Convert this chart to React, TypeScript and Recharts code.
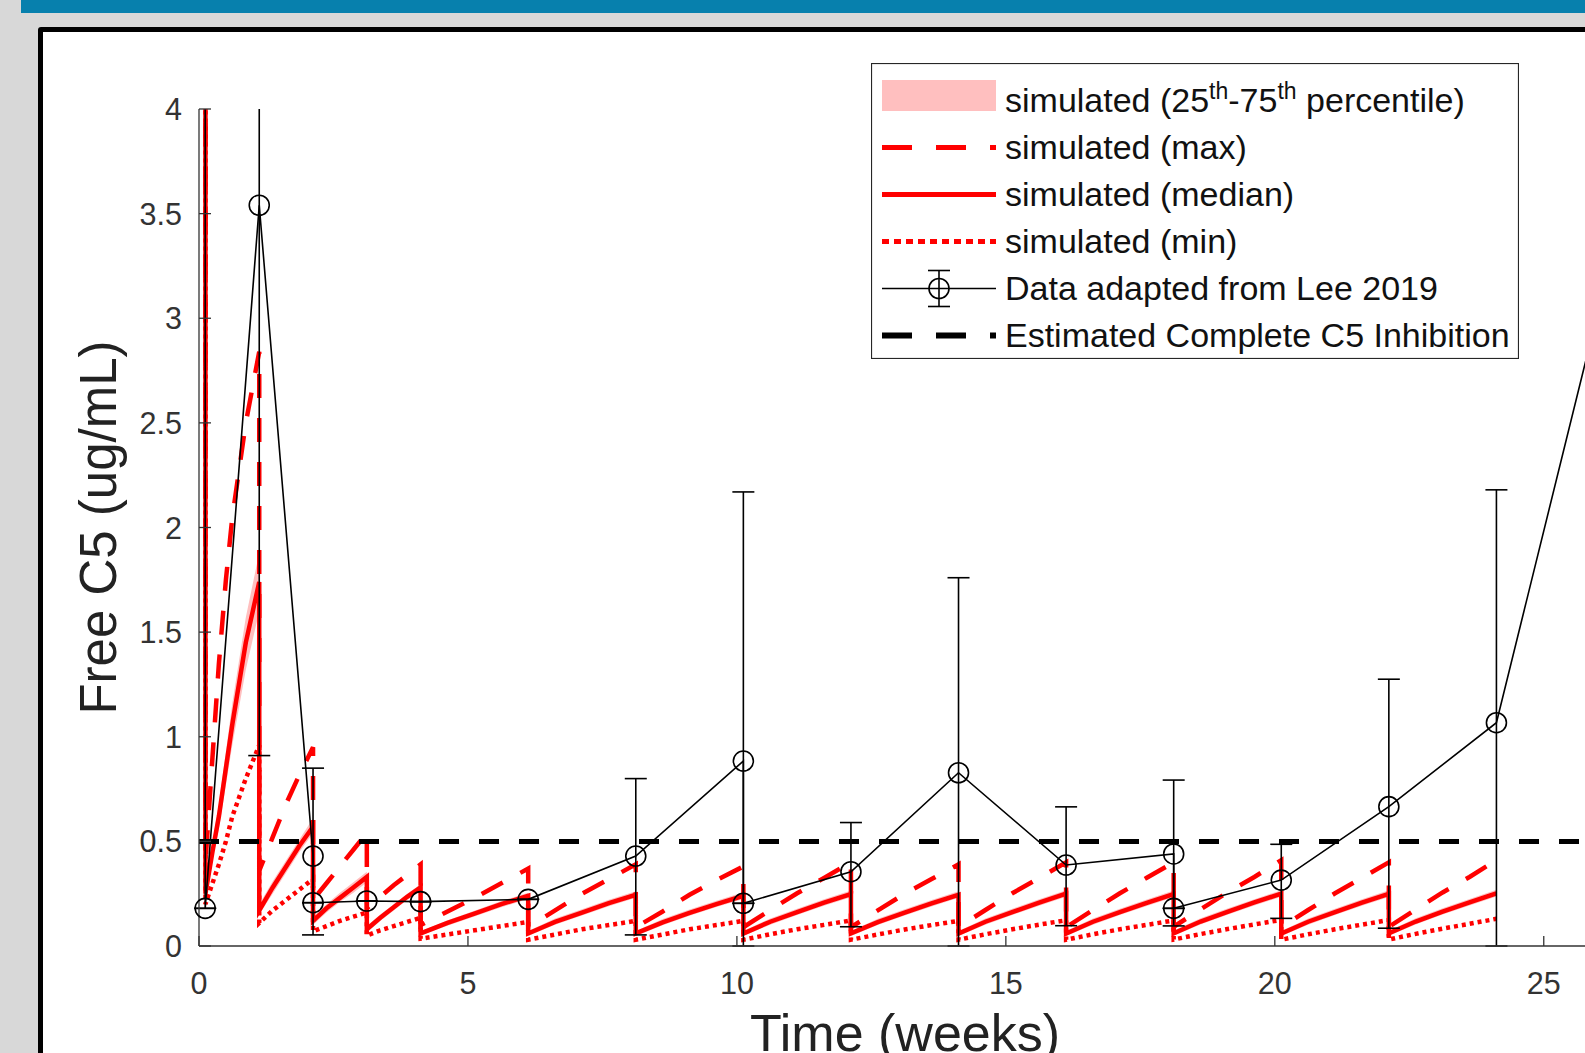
import {
  ComposedChart,
  Line,
  Area,
  XAxis,
  YAxis,
  ErrorBar,
  ReferenceLine,
  Legend,
} from "recharts";

const FONT = "'Liberation Sans', Arial, Helvetica, sans-serif";
const RED = "#ff0000";
const BAND = "#ffbfbf";
const AXIS = "#333333";
const PLOT_TOP = 109;

/* simulated free C5 (weeks, ug/mL); each dose time appears twice: pre- and post-dose */
const SIM_T = [
  0, 0.12,
  0.12, 0.25, 0.37, 0.5, 0.62, 0.87, 1.12,
  1.12, 1.37, 1.62, 1.87, 2.12,
  2.12, 2.37, 2.62, 2.87, 3.12,
  3.12, 3.37, 3.62, 3.87, 4.12,
  4.12, 4.62, 5.12, 5.62, 6.12,
  6.12, 6.62, 7.12, 7.62, 8.12,
  8.12, 8.62, 9.12, 9.62, 10.12,
  10.12, 10.62, 11.12, 11.62, 12.12,
  12.12, 12.62, 13.12, 13.62, 14.12,
  14.12, 14.62, 15.12, 15.62, 16.12,
  16.12, 16.62, 17.12, 17.62, 18.12,
  18.12, 18.62, 19.12, 19.62, 20.12,
  20.12, 20.62, 21.12, 21.62, 22.12,
  22.12, 22.62, 23.12, 23.62, 24.12,
];
const SIM_MIN = [
  100, 100,
  0.2, 0.3, 0.39, 0.5, 0.62, 0.8, 0.96,
  0.11, 0.17, 0.22, 0.27, 0.32,
  0.07, 0.095, 0.12, 0.14, 0.16,
  0.05, 0.075, 0.095, 0.115, 0.135,
  0.035, 0.055, 0.075, 0.095, 0.115,
  0.03, 0.055, 0.08, 0.1, 0.12,
  0.03, 0.055, 0.08, 0.1, 0.12,
  0.03, 0.056, 0.08, 0.101, 0.122,
  0.03, 0.055, 0.079, 0.1, 0.12,
  0.03, 0.056, 0.08, 0.102, 0.123,
  0.03, 0.056, 0.08, 0.101, 0.122,
  0.031, 0.057, 0.081, 0.103, 0.125,
  0.03, 0.056, 0.08, 0.102, 0.124,
  0.031, 0.058, 0.083, 0.106, 0.13,
];
const SIM_Q25 = [
  100, 100,
  0.23, 0.41, 0.56, 0.77, 0.96, 1.32, 1.6,
  0.15, 0.25, 0.35, 0.45, 0.54,
  0.1, 0.16, 0.21, 0.255, 0.305,
  0.065, 0.12, 0.17, 0.22, 0.265,
  0.05, 0.097, 0.141, 0.185, 0.225,
  0.048, 0.101, 0.146, 0.19, 0.23,
  0.048, 0.099, 0.144, 0.186, 0.225,
  0.048, 0.102, 0.148, 0.192, 0.233,
  0.048, 0.1, 0.146, 0.189, 0.23,
  0.048, 0.102, 0.148, 0.192, 0.235,
  0.048, 0.102, 0.148, 0.191, 0.233,
  0.049, 0.103, 0.149, 0.193, 0.235,
  0.048, 0.102, 0.148, 0.192, 0.234,
  0.049, 0.103, 0.15, 0.194, 0.237,
];
const SIM_MED = [
  100, 100,
  0.25, 0.45, 0.62, 0.85, 1.06, 1.45, 1.74,
  0.17, 0.28, 0.38, 0.48, 0.57,
  0.12, 0.18, 0.23, 0.28, 0.33,
  0.08, 0.135, 0.185, 0.235, 0.28,
  0.06, 0.11, 0.155, 0.2, 0.24,
  0.06, 0.115, 0.16, 0.205, 0.245,
  0.06, 0.113, 0.158, 0.2, 0.24,
  0.06, 0.116, 0.162, 0.207, 0.248,
  0.06, 0.114, 0.16, 0.204, 0.245,
  0.06, 0.116, 0.162, 0.207, 0.25,
  0.06, 0.116, 0.162, 0.206, 0.248,
  0.061, 0.117, 0.163, 0.208, 0.25,
  0.06, 0.116, 0.162, 0.207, 0.249,
  0.061, 0.117, 0.164, 0.209, 0.252,
];
const SIM_Q75 = [
  100, 100,
  0.27, 0.49, 0.68, 0.93, 1.16, 1.57, 1.88,
  0.2, 0.31, 0.41, 0.51, 0.61,
  0.14, 0.2, 0.255, 0.305, 0.355,
  0.095, 0.15, 0.2, 0.25, 0.295,
  0.07, 0.123, 0.169, 0.215, 0.255,
  0.072, 0.131, 0.176, 0.221, 0.262,
  0.072, 0.129, 0.174, 0.216, 0.257,
  0.072, 0.132, 0.178, 0.223, 0.265,
  0.072, 0.13, 0.176, 0.22, 0.262,
  0.072, 0.132, 0.178, 0.223, 0.267,
  0.072, 0.132, 0.178, 0.222, 0.265,
  0.073, 0.133, 0.179, 0.224, 0.267,
  0.072, 0.132, 0.178, 0.223, 0.266,
  0.073, 0.133, 0.18, 0.225, 0.269,
];
const SIM_MAX = [
  100, 100,
  0.4, 0.9, 1.35, 1.75, 2.05, 2.5, 2.84,
  0.36, 0.52, 0.68, 0.82, 0.95,
  0.22, 0.3, 0.38, 0.46, 0.54,
  0.18, 0.235, 0.29, 0.34, 0.39,
  0.1, 0.165, 0.23, 0.3, 0.37,
  0.09, 0.17, 0.25, 0.32, 0.39,
  0.09, 0.165, 0.245, 0.315, 0.38,
  0.09, 0.172, 0.252, 0.325, 0.4,
  0.09, 0.17, 0.25, 0.32, 0.39,
  0.09, 0.172, 0.252, 0.325, 0.4,
  0.09, 0.172, 0.252, 0.326, 0.4,
  0.092, 0.175, 0.256, 0.33, 0.41,
  0.09, 0.172, 0.252, 0.326, 0.4,
  0.092, 0.175, 0.256, 0.33, 0.41,
];

/* observed data (Lee 2019), error offsets below / above each point */
const OBS_T = [0.115, 0.115, 1.12, 2.12, 2.12, 3.12, 4.12, 6.12, 8.12, 10.12, 10.12, 12.12, 14.12, 16.12, 18.12, 18.12, 20.12, 22.12, 24.12, 26.12];
const OBS_Y = [100, 0.18, 3.54, 0.43, 0.207, 0.215, 0.212, 0.223, 0.43, 0.884, 0.204, 0.355, 0.828, 0.387, 0.44, 0.18, 0.315, 0.666, 1.067, 3.15];
const OBS_ERR_LO = [0, 0, 2.63, 0.377, 0, 0, 0, 0, 0.377, 0.884, 0, 0.263, 0.828, 0.29, 0.344, 0, 0.183, 0.581, 1.067, 2.0];
const OBS_ERR_HI = [0, 0, 2.63, 0.42, 0, 0, 0, 0, 0.37, 1.286, 0, 0.235, 0.932, 0.278, 0.353, 0, 0.171, 0.609, 1.113, 2.0];

const THRESHOLD = 0.5;
const X_TICKS = [0, 5, 10, 15, 20, 25];
const Y_TICKS = [0, 0.5, 1, 1.5, 2, 2.5, 3, 3.5, 4];

const LEGEND_LABELS = [
  "simulated (max)",
  "simulated (median)",
  "simulated (min)",
  "Data adapted from Lee 2019",
  "Estimated Complete C5 Inhibition",
];

const simData = SIM_T.map((t, i) => ({
  t,
  min: SIM_MIN[i],
  med: SIM_MED[i],
  max: SIM_MAX[i],
  band: [SIM_Q25[i], SIM_Q75[i]],
}));

const obsData = OBS_T.map((t, i) => ({
  t,
  y: OBS_Y[i],
  err: [OBS_ERR_LO[i], OBS_ERR_HI[i]],
}));

function XTick(props: any) {
  const { x, y, payload } = props;
  return (
    <g>
      <line x1={x} x2={x} y1={y} y2={y - 10} stroke={AXIS} strokeWidth={1.3} />
      <text x={x} y={y + 48} textAnchor="middle" fontSize={30.5} fontFamily={FONT} fill={AXIS}>
        {payload.value}
      </text>
    </g>
  );
}

function YTick(props: any) {
  const { x, y, payload } = props;
  return (
    <g>
      <line x1={x} x2={x + 12} y1={y} y2={y} stroke={AXIS} strokeWidth={1.3} />
      <text x={x - 17} y={y + 11} textAnchor="end" fontSize={30.5} fontFamily={FONT} fill={AXIS}>
        {payload.value}
      </text>
    </g>
  );
}

const renderXTitle = (p: any) => {
  const vb = p.viewBox;
  return (
    <text x={vb.x + vb.width / 2} y={vb.y + 105} textAnchor="middle" fontSize={52} fontFamily={FONT} fill="#222">
      Time (weeks)
    </text>
  );
};

const renderYTitle = (p: any) => {
  const vb = p.viewBox;
  const cx = vb.x + 17;
  const cy = vb.y + vb.height / 2;
  return (
    <text x={cx} y={cy} transform={`rotate(-90 ${cx} ${cy})`} textAnchor="middle" fontSize={51} fontFamily={FONT} fill="#222">
      Free C5 (ug/mL)
    </text>
  );
};

function LegendBox() {
  const iconY = [32.5, 84.5, 131.5, 178.5, 225.5, 272.5];
  const txt = { fontSize: 34, fontFamily: FONT, fill: "#111" };
  return (
    <svg width={648} height={296} style={{ display: "block" }}>
      <rect x={0.5} y={0.5} width={647} height={295} fill="#fff" stroke="#262626" strokeWidth={1.2} />
      {/* band patch */}
      <rect x={11} y={17} width={114} height={31} fill={BAND} />
      <text x={134} y={48.5} {...txt}>
        simulated (25
        <tspan dy={-13} fontSize={23}>th</tspan>
        <tspan dy={13}>-75</tspan>
        <tspan dy={-13} fontSize={23}>th</tspan>
        <tspan dy={13}> percentile)</tspan>
      </text>
      <line x1={11} x2={125} y1={iconY[1]} y2={iconY[1]} stroke={RED} strokeWidth={5} strokeDasharray="30 24" />
      <line x1={11} x2={125} y1={iconY[2]} y2={iconY[2]} stroke={RED} strokeWidth={5} />
      <line x1={11} x2={125} y1={iconY[3]} y2={iconY[3]} stroke={RED} strokeWidth={5} strokeDasharray="7 5" />
      <g stroke="#000" strokeWidth={1.6} fill="none">
        <line x1={11} x2={125} y1={iconY[4]} y2={iconY[4]} />
        <circle cx={68} cy={iconY[4]} r={10} />
        <line x1={68} x2={68} y1={iconY[4] - 18} y2={iconY[4] + 18} />
        <line x1={57} x2={79} y1={iconY[4] - 18} y2={iconY[4] - 18} />
        <line x1={57} x2={79} y1={iconY[4] + 18} y2={iconY[4] + 18} />
      </g>
      <line x1={11} x2={125} y1={iconY[5]} y2={iconY[5]} stroke="#000" strokeWidth={6} strokeDasharray="30 24" />
      {LEGEND_LABELS.map((label, i) => (
        <text key={label} x={134} y={iconY[i + 1] + 11} {...txt}>
          {label}
        </text>
      ))}
    </svg>
  );
}

export default function App() {
  return (
    <div
      style={{
        position: "absolute",
        left: 0,
        top: 0,
        width: 1585,
        height: 1053,
        overflow: "hidden",
        background: "#d8d8d8",
      }}
    >
      {/* error bars are cut at the top of the axes, like the MATLAB original */}
      <style>{`.recharts-errorBars { clip-path: url(#errbar-clip); }`}</style>
      <svg width={0} height={0} style={{ position: "absolute" }}>
        <defs>
          <clipPath id="errbar-clip" clipPathUnits="userSpaceOnUse">
            <rect x={0} y={PLOT_TOP} width={3000} height={3000} />
          </clipPath>
        </defs>
      </svg>
      <div style={{ position: "absolute", left: 21, top: 0, width: 1600, height: 13, background: "#0780ad" }} />
      <div
        style={{
          position: "absolute",
          left: 38,
          top: 27,
          width: 1700,
          height: 1200,
          border: "5px solid #000",
          borderRadius: 3,
          background: "#fff",
        }}
      />
      <div style={{ position: "absolute", left: 0, top: 0 }}>
        <ComposedChart width={1700} height={1100} margin={{ top: PLOT_TOP, right: 89, bottom: 94, left: 99 }}>
          <XAxis
            type="number"
            dataKey="t"
            domain={[0, 26.25]}
            allowDataOverflow
            ticks={X_TICKS}
            interval={0}
            tickSize={0}
            tickMargin={0}
            tickLine={false}
            tick={<XTick />}
            axisLine={{ stroke: AXIS, strokeWidth: 1.3 }}
            height={60}
            label={{ value: "Time (weeks)", content: renderXTitle }}
          />
          <YAxis
            type="number"
            domain={[0, 4]}
            allowDataOverflow
            ticks={Y_TICKS}
            interval={0}
            tickSize={0}
            tickMargin={0}
            tickLine={false}
            tick={<YTick />}
            axisLine={{ stroke: AXIS, strokeWidth: 1.3 }}
            width={100}
            label={{ value: "Free C5 (ug/mL)", content: renderYTitle }}
          />
          <Area
            data={simData}
            dataKey="band"
            type="linear"
            stroke="none"
            fill={BAND}
            fillOpacity={1}
            isAnimationActive={false}
            activeDot={false}
          />
          <Line data={simData} dataKey="max" type="linear" stroke={RED} strokeWidth={4.5} strokeDasharray="24 20" dot={false} activeDot={false} isAnimationActive={false} />
          <Line data={simData} dataKey="med" type="linear" stroke={RED} strokeWidth={4.5} dot={false} activeDot={false} isAnimationActive={false} />
          <Line data={simData} dataKey="min" type="linear" stroke={RED} strokeWidth={4.5} strokeDasharray="4 4" dot={false} activeDot={false} isAnimationActive={false} />
          <ReferenceLine y={THRESHOLD} stroke="#000" strokeWidth={5} strokeDasharray="20 20" />
          <Line
            data={obsData}
            dataKey="y"
            type="linear"
            stroke="#000"
            strokeWidth={1.6}
            dot={{ r: 10, stroke: "#000", strokeWidth: 1.6, fill: "none", clipDot: false }}
            activeDot={false}
            isAnimationActive={false}
          >
            <ErrorBar
              dataKey="err"
              direction="y"
              width={11}
              stroke="#000"
              strokeWidth={1.6}
              clipPath="url(#errbar-clip)"
              isAnimationActive={false}
            />
          </Line>
          <Legend
            layout="vertical"
            align="center"
            verticalAlign="middle"
            wrapperStyle={{ left: 871, top: 63, width: 648, height: 296 }}
            content={() => <LegendBox />}
          />
        </ComposedChart>
      </div>
    </div>
  );
}
